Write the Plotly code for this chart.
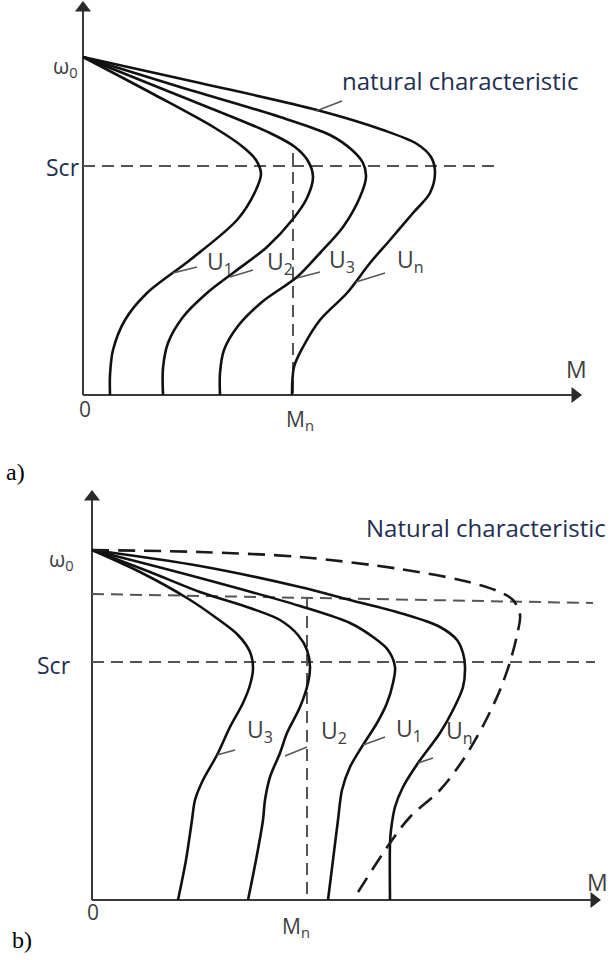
import plotly.graph_objects as go

# ---------------- Panel a) data (torque M, speed w; arbitrary units) ----------------
A_W0 = 338          # no-load speed w0
A_SCR = 229         # critical slip level
A_MN = 210          # rated torque Mn
A_M_END = 499       # end of M axis
A_W_END = 394       # end of w axis
A_SCR_END = 412     # extent of Scr dashed line
A_MN_TOP = 242      # top of Mn dashed line

a_u1_m = [0, 72, 132, 160, 173, 178, 172, 154, 107, 64, 42, 30, 27, 27]
a_u1_w = [338, 300, 267, 248, 235, 221, 203, 175, 135, 102, 75, 45, 20, 0]
a_u2_m = [0, 97, 187, 212, 225, 230, 224, 210, 184, 150, 124, 100, 85, 80, 80]
a_u2_w = [338, 299, 262, 248, 234, 218, 197, 176, 148, 122, 102, 78, 52, 27, 0]
a_u3_m = [0, 97, 197, 247, 269, 280, 283, 277, 260, 237, 214, 179, 155, 141, 137, 137]
a_u3_w = [338, 308, 278, 260, 245, 232, 218, 198, 168, 142, 118, 93, 69, 45, 22, 0]
a_un_m = [0, 117, 234, 300, 334, 348, 352, 347, 330, 307, 287, 264, 237, 220, 211, 209]
a_un_w = [338, 312, 285, 265, 251, 238, 223, 202, 182, 155, 132, 102, 75, 48, 28, 0]

a_curve_labels = ["U<sub>1</sub>", "U<sub>2</sub>", "U<sub>3</sub>", "U<sub>n</sub>"]
a_label_m = [137, 197, 259, 327]
a_label_w = [133, 133, 135, 135]
a_leader_m0 = [90, 147, 214, 273]
a_leader_w0 = [122, 118, 117, 113]
a_leader_m1 = [114, 170, 237, 302]
a_leader_w1 = [128, 125, 123, 122]

# ---------------- Panel b) data ----------------
B_W0 = 350
B_SCR = 238
B_MN = 215
B_M_END = 509
B_W_END = 410
B_SCR_END = 503
B_UP_W = [306, 297]     # upper dashed level (start, end)
B_UP_END = 501

b_u3_m = [0, 48, 95, 123, 146, 158, 161, 158, 151, 138, 125, 111, 103, 100, 94, 86]
b_u3_w = [350, 328, 302, 283, 265, 248, 232, 215, 197, 173, 145, 120, 100, 80, 40, 0]
b_u2_m = [0, 58, 108, 158, 188, 206, 215, 218, 216, 208, 195, 188, 178, 173, 171, 164, 156]
b_u2_w = [350, 328, 308, 292, 280, 265, 250, 233, 217, 193, 167, 147, 123, 100, 80, 40, 0]
b_u1_m = [0, 108, 208, 258, 281, 296, 303, 301, 295, 285, 271, 258, 250, 246, 241, 236]
b_u1_w = [350, 322, 294, 277, 263, 250, 233, 217, 197, 177, 155, 133, 110, 80, 40, 0]
b_un_m = [0, 108, 208, 258, 308, 348, 365, 371, 373, 371, 361, 348, 326, 311, 303, 299, 298, 298]
b_un_w = [350, 334, 313, 300, 287, 273, 260, 247, 233, 213, 190, 167, 137, 113, 93, 70, 57, 0]
b_nat_m = [0, 108, 208, 308, 368, 403, 421, 428, 425, 418, 408, 393, 371, 348, 318, 298, 261]
b_nat_w = [350, 348, 343, 331, 320, 310, 300, 285, 265, 238, 210, 178, 140, 110, 83, 57, 0]

b_curve_labels = ["U<sub>3</sub>", "U<sub>2</sub>", "U<sub>1</sub>", "U<sub>n</sub>"]
b_label_m = [168, 242, 317, 367]
b_label_w = [170, 169, 171, 169]
b_leader_m0 = [125, 193, 271, 326]
b_leader_w0 = [145, 144, 155, 137]
b_leader_m1 = [143, 215, 293, 341]
b_leader_w1 = [150, 153, 163, 142]

# ---------------- styles ----------------
CURVE = dict(color="#111111", width=2.6, shape="spline", smoothing=0.9)
AXIS = dict(color="#3a3a3a", width=2)
DASH = dict(color="#555555", width=2, dash="12px,7px")
LEADER = dict(color="#555555", width=1.4)
NAVY = "#1e2f52"
GREY = "#404040"
SANS = "Open Sans"
FS = 23

fig = go.Figure()


def line(xs, ys, style, xa, ya):
    fig.add_trace(go.Scatter(x=xs, y=ys, mode="lines", line=style,
                             xaxis=xa, yaxis=ya, hoverinfo="skip", showlegend=False))


def arrow(xv, yv, symbol, xa, ya):
    fig.add_trace(go.Scatter(x=[xv], y=[yv], mode="markers",
                             marker=dict(symbol=symbol, size=14, color="#2a2a2a"),
                             xaxis=xa, yaxis=ya, hoverinfo="skip", showlegend=False,
                             cliponaxis=False))


def text(t, xv, yv, xr, yr, size, color, family=SANS, **kw):
    fig.add_annotation(text=t, x=xv, y=yv, xref=xr, yref=yr, showarrow=False,
                       font=dict(size=size, color=color, family=family), **kw)


# ---- panel a ----
xa, ya = "x", "y"
line([0, A_M_END - 5], [0, 0], AXIS, xa, ya)
line([0, 0], [0, A_W_END - 5], AXIS, xa, ya)
arrow(A_M_END - 7, 0, "triangle-right", xa, ya)
arrow(0, A_W_END - 7, "triangle-up", xa, ya)
line([0, A_SCR_END], [A_SCR, A_SCR], DASH, xa, ya)
line([A_MN, A_MN], [A_MN_TOP, 0], DASH, xa, ya)
for m, w in [(a_u1_m, a_u1_w), (a_u2_m, a_u2_w), (a_u3_m, a_u3_w), (a_un_m, a_un_w)]:
    line(m, w, CURVE, xa, ya)
for i in range(4):
    line([a_leader_m0[i], a_leader_m1[i]], [a_leader_w0[i], a_leader_w1[i]], LEADER, xa, ya)
    text(a_curve_labels[i], a_label_m[i], a_label_w[i], xa, ya, FS, GREY)
line([233, 259], [284, 294], LEADER, xa, ya)
text("natural characteristic", 377, 315, xa, ya, 24, NAVY)
text("ω<sub>0</sub>", -18, 328, xa, ya, 21, GREY)
text("Scr", -20, 228, xa, ya, FS, NAVY)
text("0", 2, -14, xa, ya, 21, GREY)
text("M<sub>n</sub>", 217, -25, xa, ya, 21, GREY)
text("M", 493, 26, xa, ya, FS, GREY)
text("a)", -68, -77, xa, ya, 24, "#000000", family="Liberation Serif")

# ---- panel b ----
xb, yb = "x2", "y2"
line([0, B_M_END - 5], [0, 0], AXIS, xb, yb)
line([0, 0], [0, B_W_END - 5], AXIS, xb, yb)
arrow(B_M_END - 7, 0, "triangle-right", xb, yb)
arrow(0, B_W_END - 7, "triangle-up", xb, yb)
line([0, B_SCR_END], [B_SCR, B_SCR], DASH, xb, yb)
line([0, B_UP_END], B_UP_W, DASH, xb, yb)
line([B_MN, B_MN], [B_UP_W[0] - 3, 0], DASH, xb, yb)
for m, w in [(b_u3_m, b_u3_w), (b_u2_m, b_u2_w), (b_u1_m, b_u1_w), (b_un_m, b_un_w)]:
    line(m, w, CURVE, xb, yb)
line(b_nat_m, b_nat_w, dict(color="#1a1a1a", width=2.6, shape="spline", smoothing=0.9,
                            dash="17px,9px"), xb, yb)
for i in range(4):
    line([b_leader_m0[i], b_leader_m1[i]], [b_leader_w0[i], b_leader_w1[i]], LEADER, xb, yb)
    text(b_curve_labels[i], b_label_m[i], b_label_w[i], xb, yb, FS, GREY)
text("Natural characteristic", 394, 373, xb, yb, 24, NAVY)
text("ω<sub>0</sub>", -31, 340, xb, yb, 21, GREY)
text("Scr", -38, 235, xb, yb, FS, NAVY)
text("0", 1, -12, xb, yb, 21, GREY)
text("M<sub>n</sub>", 204, -27, xb, yb, 21, GREY)
text("M", 505, 18, xb, yb, FS, GREY)
text("b)", -70, -40, xb, yb, 24, "#000000", family="Liberation Serif")

hidden = dict(visible=False, showgrid=False, zeroline=False, fixedrange=True)
fig.update_layout(
    width=613, height=960,
    margin=dict(l=0, r=0, t=0, b=0),
    paper_bgcolor="white", plot_bgcolor="white",
    showlegend=False,
    xaxis=dict(domain=[0, 1], range=[-83, 530], anchor="y", **hidden),
    yaxis=dict(domain=[0.5, 1], range=[-85, 395], anchor="x", **hidden),
    xaxis2=dict(domain=[0, 1], range=[-92, 521], anchor="y2", **hidden),
    yaxis2=dict(domain=[0, 0.5], range=[-60, 420], anchor="x2", **hidden),
)

fig.write_html("out.html", config={"displayModeBar": False},
               post_script="document.body.style.margin='0px';")
